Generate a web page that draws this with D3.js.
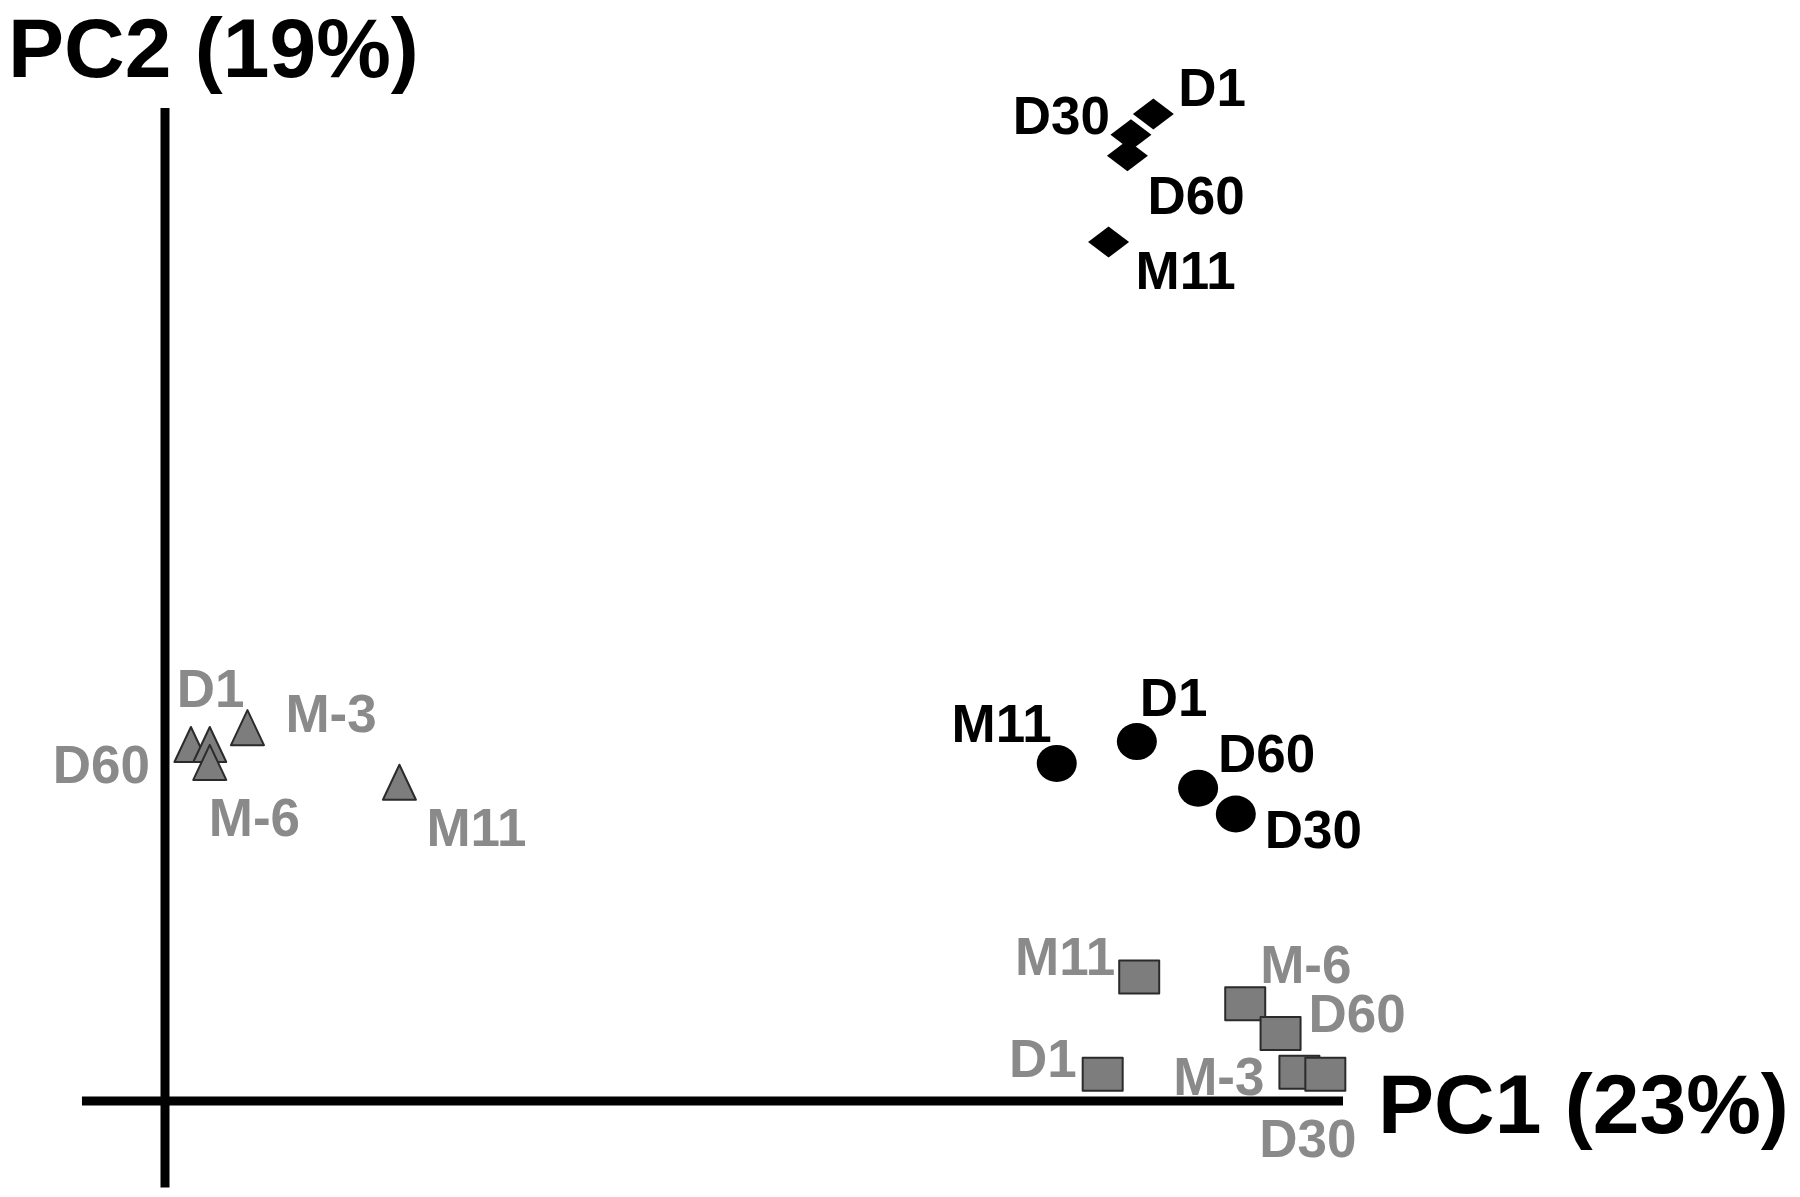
<!DOCTYPE html>
<html lang="en">
<head>
    <meta charset="UTF-8">
    <title>PCA scores - PC1 vs PC2</title>
    <script src="https://cdn.jsdelivr.net/npm/d3@7"></script>
    <style>
        html, body { margin: 0; padding: 0; background: #fff; }
        svg { display: block; }
        .axis-line { stroke: #000; stroke-width: 9; }
        .axis-title { font-family: "Liberation Sans", Arial, sans-serif; font-weight: bold; font-size: 84px; fill: #000; }
        .pt-label { font-family: "Liberation Sans", Arial, sans-serif; font-weight: bold; font-size: 53px; }
    </style>
</head>
<body>
    <svg id="chart" width="1800" height="1197"></svg>

    <script>
        // Scores (arbitrary units, origin at the axes crossing)
        const diamondNames = ['D1', 'D30', 'D60', 'M11'];
        const diamondPC1   = [83.9, 82.0, 81.7, 80.1];
        const diamondPC2   = [99.4, 97.3, 95.2, 86.5];

        const circleNames = ['M11', 'D1', 'D60', 'D30'];
        const circlePC1   = [75.7, 82.5, 87.7, 90.9];
        const circlePC2   = [34.0, 36.2, 31.5, 28.9];

        const triangleNames = ['D60', 'D1', 'M-6', 'M-3', 'M11'];
        const trianglePC1   = [2.2, 3.8, 3.8, 7.0, 19.9];
        const trianglePC2   = [35.9, 35.9, 34.1, 37.6, 32.1];

        const squareNames = ['M11', 'M-6', 'D60', 'D1', 'M-3', 'D30'];
        const squarePC1   = [82.7, 91.7, 94.7, 79.6, 96.3, 98.5];
        const squarePC2   = [12.5, 9.8, 6.8, 2.7, 2.9, 2.7];

        // Axis extents in score units
        const xAxisExtent = [-7.05, 100];
        const yAxisExtent = [-8.7, 100];
        const xTitle = 'PC1 (23%)';
        const yTitle = 'PC2 (19%)';

        // Label placement next to each marker: [dx, dy, anchor]
        const labelPlacement = {
            diamond:  { 'D1': [25, -8, 'start'], 'D30': [-21, -1, 'end'], 'D60': [20, 58, 'start'], 'M11': [27, 47, 'start'] },
            circle:   { 'M11': [-5, -21, 'end'], 'D1': [3, -26, 'start'], 'D60': [20, -16, 'start'], 'D30': [29, 34, 'start'] },
            triangle: { 'D60': [-41, 38, 'end'], 'D1': [-33, -38, 'start'], 'M-6': [-1, 74, 'start'], 'M-3': [38, 4, 'start'], 'M11': [27, 64, 'start'] },
            square:   { 'M11': [-24, -2, 'end'], 'M-6': [15, -21, 'start'], 'D60': [28, -1, 'start'], 'D1': [-26, 3, 'end'], 'M-3': [-35, 23, 'end'], 'D30': [-66, 83, 'start'] }
        };

        const GRAY_TEXT = '#8a8a8a';
        const GRAY_FILL = '#7d7d7d';
        const EDGE = '#2b2b2b';

        function zip(kind, names, xs, ys) {
            return names.map((n, i) => ({ kind: kind, name: n, pc1: xs[i], pc2: ys[i] }));
        }

        const groups = [
            zip('triangle', triangleNames, trianglePC1, trianglePC2),
            zip('square', squareNames, squarePC1, squarePC2),
            zip('circle', circleNames, circlePC1, circlePC2),
            zip('diamond', diamondNames, diamondPC1, diamondPC2)
        ];

        const svg = d3.select('#chart');

        const xScale = d3.scaleLinear().domain([0, 100]).range([165, 1343]);
        const yScale = d3.scaleLinear().domain([0, 100]).range([1101, 108]);

        // Axes as two plain crossing lines
        svg.append('line')
            .attr('class', 'axis-line')
            .attr('x1', xScale(xAxisExtent[0])).attr('x2', xScale(xAxisExtent[1]))
            .attr('y1', yScale(0)).attr('y2', yScale(0));

        svg.append('line')
            .attr('class', 'axis-line')
            .attr('x1', xScale(0)).attr('x2', xScale(0))
            .attr('y1', yScale(yAxisExtent[0])).attr('y2', yScale(yAxisExtent[1]));

        svg.append('text')
            .attr('class', 'axis-title')
            .attr('x', 8).attr('y', 77)
            .text(yTitle);

        svg.append('text')
            .attr('class', 'axis-title')
            .attr('x', xScale(xAxisExtent[1]) + 35).attr('y', yScale(0) + 32)
            .text(xTitle);

        // Marker shapes
        const shapePath = {
            diamond: 'M-20.5,0L0,-15.5L20.5,0L0,15.5Z',
            triangle: 'M0,-17.5L16.5,17.5L-16.5,17.5Z',
            square: 'M-20,-16.5L20,-16.5L20,16.5L-20,16.5Z'
        };

        groups.forEach(group => {
            const g = svg.append('g');

            group.forEach(d => {
                const cx = xScale(d.pc1);
                const cy = yScale(d.pc2);

                if (d.kind === 'circle') {
                    g.append('ellipse')
                        .attr('cx', cx).attr('cy', cy)
                        .attr('rx', 20).attr('ry', 18.5)
                        .attr('fill', '#000');
                } else {
                    const gray = d.kind === 'triangle' || d.kind === 'square';
                    g.append('path')
                        .attr('d', shapePath[d.kind])
                        .attr('transform', `translate(${cx},${cy})`)
                        .attr('fill', gray ? GRAY_FILL : '#000')
                        .attr('stroke', gray ? EDGE : 'none')
                        .attr('stroke-width', gray ? 2 : 0)
                        .attr('stroke-linejoin', 'round');
                }
            });

            group.forEach(d => {
                const p = labelPlacement[d.kind][d.name];
                const gray = d.kind === 'triangle' || d.kind === 'square';
                g.append('text')
                    .attr('class', 'pt-label')
                    .attr('x', xScale(d.pc1) + p[0])
                    .attr('y', yScale(d.pc2) + p[1])
                    .attr('text-anchor', p[2])
                    .attr('fill', gray ? GRAY_TEXT : '#000')
                    .text(d.name);
            });
        });
    </script>
</body>
</html>
